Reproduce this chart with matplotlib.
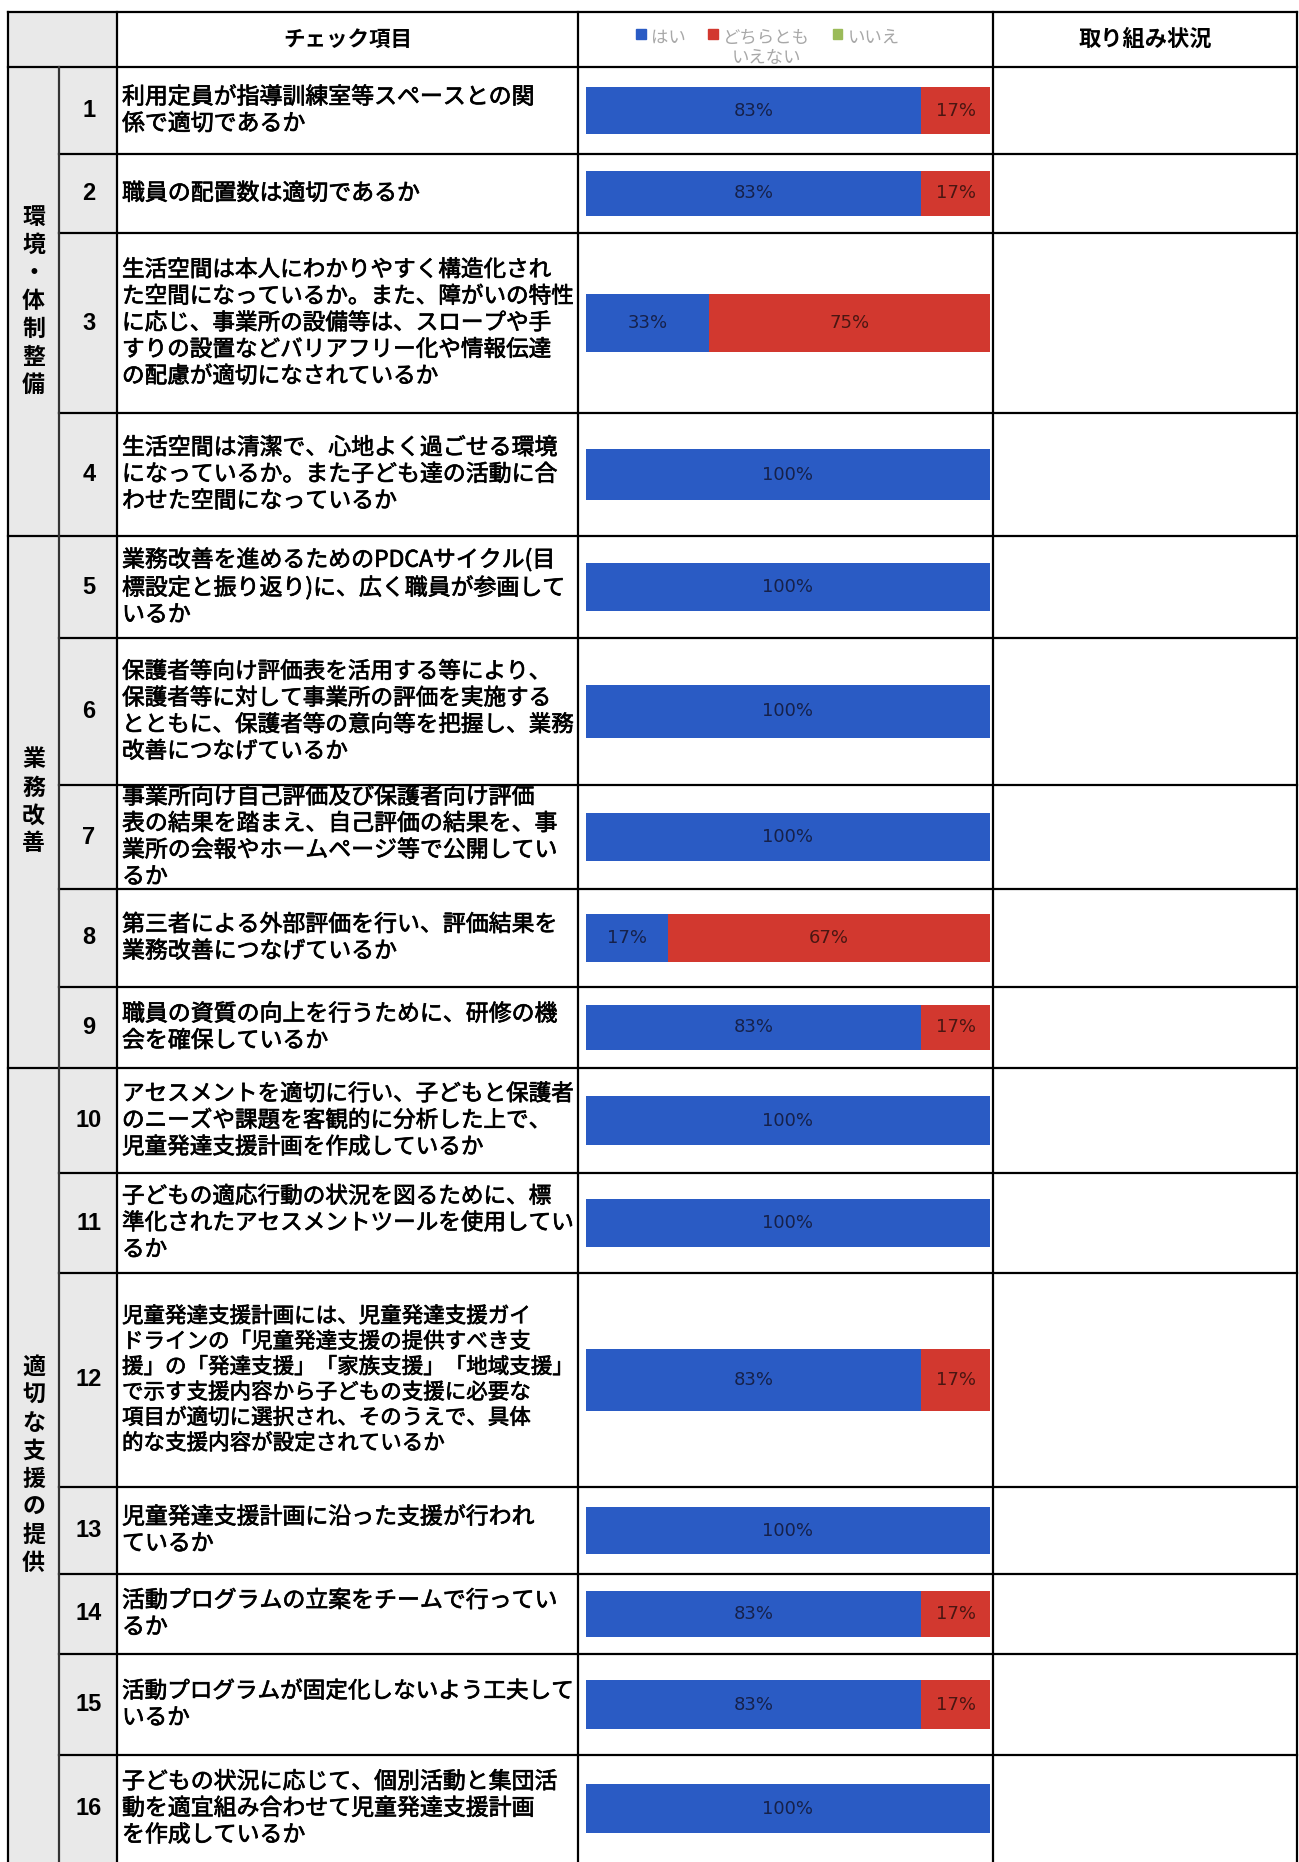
import matplotlib
matplotlib.use("Agg")
import numpy as np
from matplotlib import pyplot as plt
from matplotlib import font_manager
from matplotlib import patheffects
from matplotlib.patches import Rectangle, Patch

plt.rcParams['font.family'] = ['Noto Sans CJK JP', 'DejaVu Sans']

# ---- data -------------------------------------------------------------
item_no = list(range(1, 17))

item_text = [
    "利用定員が指導訓練室等スペースとの関\n係で適切であるか",
    "職員の配置数は適切であるか",
    "生活空間は本人にわかりやすく構造化され\nた空間になっているか。また、障がいの特性\nに応じ、事業所の設備等は、スロープや手\nすりの設置などバリアフリー化や情報伝達\nの配慮が適切になされているか",
    "生活空間は清潔で、心地よく過ごせる環境\nになっているか。また子ども達の活動に合\nわせた空間になっているか",
    "業務改善を進めるためのPDCAサイクル(目\n標設定と振り返り)に、広く職員が参画して\nいるか",
    "保護者等向け評価表を活用する等により、\n保護者等に対して事業所の評価を実施する\nとともに、保護者等の意向等を把握し、業務\n改善につなげているか",
    "事業所向け自己評価及び保護者向け評価\n表の結果を踏まえ、自己評価の結果を、事\n業所の会報やホームページ等で公開してい\nるか",
    "第三者による外部評価を行い、評価結果を\n業務改善につなげているか",
    "職員の資質の向上を行うために、研修の機\n会を確保しているか",
    "アセスメントを適切に行い、子どもと保護者\nのニーズや課題を客観的に分析した上で、\n児童発達支援計画を作成しているか",
    "子どもの適応行動の状況を図るために、標\n準化されたアセスメントツールを使用してい\nるか",
    "児童発達支援計画には、児童発達支援ガイ\nドラインの「児童発達支援の提供すべき支\n援」の「発達支援」「家族支援」「地域支援」\nで示す支援内容から子どもの支援に必要な\n項目が適切に選択され、そのうえで、具体\n的な支援内容が設定されているか",
    "児童発達支援計画に沿った支援が行われ\nているか",
    "活動プログラムの立案をチームで行ってい\nるか",
    "活動プログラムが固定化しないよう工夫して\nいるか",
    "子どもの状況に応じて、個別活動と集団活\n動を適宜組み合わせて児童発達支援計画\nを作成しているか",
]

groups = ["環境・体制整備", "業務改善", "適切な支援の提供"]
group_size = [4, 5, 7]

series = ["はい", "どちらとも\nいえない", "いいえ"]
yes = [83, 83, 33, 100, 100, 100, 100, 17, 83, 100, 100, 83, 100, 83, 83, 100]
neutral = [17, 17, 75, 0, 0, 0, 0, 67, 17, 0, 0, 17, 0, 17, 17, 0]
no = [0] * 16

header_items = "チェック項目"
header_status = "取り組み状況"

# ---- layout (pixels) --------------------------------------------------
W, H = 1299, 1862
row_edges = [67, 154, 233, 413, 536, 638, 785, 889, 987, 1068,
             1173, 1273, 1487, 1574, 1654, 1755, 1862]
top = 12
x_left, x_cat, x_num, x_txt, x_chart, x_right = 8, 59, 117, 578, 993, 1297
bar_x0, bar_x1 = 586, 990

blue, red, green = '#2a5bc4', '#d2382f', '#9bbb59'
gray_fill = '#e9e9e9'

narrow = 'Liberation Sans Narrow'
names = {f.name for f in font_manager.fontManager.ttflist}
pct_font = narrow if narrow in names else 'DejaVu Sans'

heavy = [patheffects.withStroke(linewidth=0.5, foreground='black')]

fig = plt.figure(figsize=(W / 100, H / 100), dpi=100)
ax = fig.add_axes([0, 0, 1, 1])
ax.set_xlim(0, W)
ax.set_ylim(H, 0)
ax.axis('off')

# grey columns on the left
ax.add_patch(Rectangle((x_left, top), x_num - x_left, H - top,
                       facecolor=gray_fill, edgecolor='none', zorder=0))

lw = 1.6
group_edges = [row_edges[0]] + [row_edges[i] for i in np.cumsum(group_size)]
for y in [top, row_edges[0]] + group_edges[1:-1]:
    ax.plot([x_left, x_right], [y, y], color='black', lw=lw, zorder=3)
for y in row_edges[1:-1]:
    if y not in group_edges:
        ax.plot([x_cat, x_right], [y, y], color='black', lw=lw, zorder=3)
for x in [x_left, x_num, x_txt, x_chart, x_right]:
    ax.plot([x, x], [top, H], color='black', lw=lw, zorder=3)
ax.plot([x_cat, x_cat], [row_edges[0], H], color='#333333', lw=lw, zorder=3)

# header
hy = (top + row_edges[0]) / 2
ax.text((x_num + x_txt) / 2, hy, header_items, ha='center', va='center',
        fontsize=15.5, fontweight='bold')
ax.text((x_chart + x_right) / 2, hy, header_status, ha='center', va='center',
        fontsize=16, fontweight='bold')

# group labels, one character per line
pitch = 28
for g, (name, e0, e1) in enumerate(zip(groups, group_edges[:-1], group_edges[1:])):
    cy = (e0 + e1) / 2
    n = len(name)
    for i, ch in enumerate(name):
        ax.text((x_left + x_cat) / 2, cy + (i - (n - 1) / 2) * pitch, ch,
                ha='center', va='center', fontsize=16.5, fontweight='bold')

# numbers and item texts
fig.canvas.draw()
renderer = fig.canvas.get_renderer()
avail = x_txt - x_num - 10
for i in range(16):
    y0, y1 = row_edges[i], row_edges[i + 1]
    cy = (y0 + y1) / 2
    ax.text((x_cat + x_num) / 2 + 1, cy, str(item_no[i]), ha='center', va='center',
            fontsize=17, fontweight='bold', family=['Liberation Sans', 'DejaVu Sans'])
    t = ax.text(x_num + 5, cy, item_text[i], ha='left', va='center',
                fontsize=16.5, linespacing=1.2, zorder=2)
    wpx = t.get_window_extent(renderer).width
    if wpx > avail:
        t.set_fontsize(16.5 * avail / wpx)
    t.set_path_effects(heavy)
    clip = Rectangle((x_num, y0 + 1), x_txt - x_num, y1 - y0 - 2, transform=ax.transData)
    t.set_clip_path(clip)

# stacked 100% bars
ax_bar = fig.add_axes([bar_x0 / W, 0, (bar_x1 - bar_x0) / W, 1])
ax_bar.set_xlim(0, 100)
ax_bar.set_ylim(H, 0)
ax_bar.axis('off')

vals = np.array([yes, neutral, no], dtype=float)
share = vals / vals.sum(axis=0) * 100
centers = [(row_edges[i] + row_edges[i + 1]) / 2 for i in range(16)]
heights = [36 + 0.12 * (row_edges[i + 1] - row_edges[i]) for i in range(16)]
left = np.zeros(16)
text_cols = ['#16214a', '#4a1612', '#333333']
for k, col in enumerate([blue, red, green]):
    ax_bar.barh(centers, share[k], left=left, height=heights, color=col,
                label=series[k], zorder=2)
    for i in range(16):
        if vals[k, i] > 0:
            ax_bar.text(left[i] + share[k, i] / 2, centers[i], f"{int(vals[k, i])}%",
                        ha='center', va='center', fontsize=13, color=text_cols[k],
                        family=[pct_font, 'DejaVu Sans'], zorder=3)
    left += share[k]

handles = [Patch(color=c) for c in [blue, red, green]]
leg = ax.legend(handles, series, ncol=3, loc='upper center',
                bbox_to_anchor=(768, 20), bbox_transform=ax.transData,
                frameon=False, fontsize=12.5, handlelength=0.55, handleheight=0.55,
                handletextpad=0.3, columnspacing=1.3, labelcolor='#a8a8a8',
                borderpad=0, labelspacing=0)
for t in leg.get_texts():
    t.set_multialignment('center')
# keep every legend square level with the first line of its label
try:
    leg._legend_handle_box.align = 'top'
    for column in leg._legend_handle_box.get_children():
        column.align = 'left'
        for entry in column.get_children():
            entry.align = 'top'
except AttributeError:
    pass

fig.savefig("out.png", dpi=100)
